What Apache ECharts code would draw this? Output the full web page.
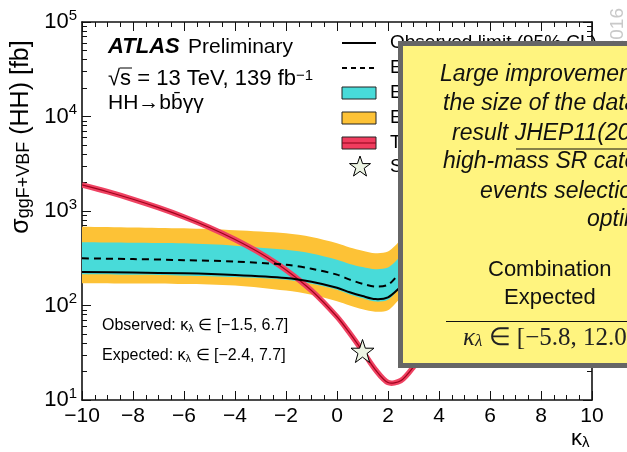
<!DOCTYPE html>
<html>
<head>
<meta charset="utf-8">
<script src="https://cdn.jsdelivr.net/npm/echarts@6/dist/echarts.min.js"></script>
<style>
html, body { margin: 0; padding: 0; background: #fff; }
#chart { width: 627px; height: 452px; }
</style>
</head>
<body>
<div id="chart"></div>
<script>
// kappa_lambda points of the limit curves
const kappa = [-10, -8, -6, -4, -2, -1, 0, 0.5, 1, 1.5, 2, 2.5, 3, 4, 6, 8, 10]
const observed = [226, 223, 219, 210, 195, 178, 154, 138, 126, 117, 122, 158, 210, 250, 270, 285, 300]
const expected = [316, 310, 302, 292, 270, 245, 212, 188, 170, 159, 166, 225, 280, 330, 360, 380, 400]
const exp1sUp = [467, 462, 455, 430, 388, 355, 305, 275, 255, 242, 252, 330, 420, 500, 540, 560, 580]
const exp1sDn = [214, 211, 207, 200, 187, 170, 147, 131, 119, 110, 115, 155, 190, 225, 245, 255, 270]
const exp2sUp = [682, 670, 655, 625, 580, 530, 455, 410, 380, 358, 372, 490, 620, 720, 780, 800, 830]
const exp2sDn = [172, 171, 169, 163, 144, 130, 111, 100, 91, 86, 89, 120, 150, 170, 185, 195, 205]

// theory prediction
const kappaTheory = [-10, -9, -8, -7, -6, -5, -4, -3, -2, -1, 0, 0.5, 1, 1.5, 2, 2.5, 3, 3.5, 4, 5, 6, 7, 8, 9, 10]
const theory = [1890, 1600, 1330, 1085, 865, 670, 500, 357, 238, 144, 76, 51, 33, 21, 15.3, 16, 22.5, 36, 56, 115, 195, 300, 440, 600, 780]

const smPoint = [1, 33]

const legendLabels = ['Observed limit (95% CL)', 'Expected limit (95% CL)', 'Expected limit \u00b11\u03c3',
  'Expected limit \u00b12\u03c3', 'Theory prediction', 'SM prediction']

const FONT = 'Liberation Sans, Arial, sans-serif'
const STAR = 'path://M50,2 L61.5,36 L97,36 L68.5,57 L79,92 L50,71 L21,92 L31.5,57 L3,36 L38.5,36 Z'
const SMOOTH = 0.3

const chart = echarts.init(document.getElementById('chart'))

const tickStyle = {
  axisLine: { show: true, onZero: false, lineStyle: { color: '#111', width: 1.6 } },
  axisTick: { show: true, inside: true, length: 9, lineStyle: { color: '#111', width: 1 } },
  minorTick: { show: true, length: 5, lineStyle: { color: '#111', width: 1 } },
  splitLine: { show: false },
  minorSplitLine: { show: false }
}

// band between two curves, drawn as one polygon (ends doubled so the corners stay sharp)
function bandSeries (upper, lower, color) {
  return {
    type: 'custom', clip: true, silent: true, z: 1,
    data: [[kappa[0], lower[0]]],
    renderItem: (params, api) => {
      const up = kappa.map((k, i) => api.coord([k, upper[i]]))
      const dn = kappa.map((k, i) => api.coord([k, lower[i]])).reverse()
      const pts = [up[0]].concat(up, [up[up.length - 1]], [dn[0]], dn, [dn[dn.length - 1]])
      return { type: 'polygon', shape: { points: pts, smooth: SMOOTH }, style: { fill: color } }
    }
  }
}

function curveSeries (xs, ys, style, z) {
  return {
    type: 'custom', clip: true, silent: true, z,
    data: [[xs[0], ys[0]]],
    renderItem: (params, api) => ({
      type: 'polyline',
      shape: { points: xs.map((k, i) => api.coord([k, ys[i]])), smooth: SMOOTH },
      style: Object.assign({ fill: null, lineJoin: 'round' }, style)
    })
  }
}

function txt (x, y, text, extra) {
  return {
    type: 'text', x, y, z: 20,
    style: Object.assign({ text, fill: '#000', fontSize: 16, fontFamily: FONT, align: 'left', verticalAlign: 'middle' }, extra || {})
  }
}

const subRich = size => ({ fontSize: size, fontFamily: FONT, fill: '#000', verticalAlign: 'bottom' })

const legendX = 342
const legendY = [43, 68, 93, 118, 143, 167]

const graphics = [
  // ATLAS label block
  txt(108, 47, 'ATLAS', { fontSize: 22, fontWeight: 'bold', fontStyle: 'italic' }),
  txt(188, 47, 'Preliminary', { fontSize: 21 }),
  txt(108, 79, '\u221as = 13 TeV, 139 fb{sup|\u22121}', {
    fontSize: 22, rich: { sup: { fontSize: 15, fontFamily: FONT, fill: '#000', verticalAlign: 'top' } }
  }),
  { type: 'line', z: 20, shape: { x1: 120, y1: 68, x2: 132, y2: 68 }, style: { stroke: '#000', lineWidth: 1 } },
  txt(108, 103, 'HH\u2192bb\u0304\u03b3\u03b3', { fontSize: 21 }),
  // intervals
  txt(102, 326, 'Observed: \u03ba{sub|\u03bb} \u2208 [\u22121.5, 6.7]', { fontSize: 16, rich: { sub: subRich(11) } }),
  txt(102, 356, 'Expected: \u03ba{sub|\u03bb} \u2208 [\u22122.4, 7.7]', { fontSize: 16, rich: { sub: subRich(11) } }),
  // axis titles
  Object.assign(txt(21, 137, '\u03c3{sub|ggF+VBF} (HH) [fb]', {
    fontSize: 25, align: 'center', rich: { sub: subRich(18) }
  }), { rotation: Math.PI / 2 }),
  txt(571, 439, '\u03ba{sub|\u03bb}', { fontSize: 22, rich: { sub: subRich(15) } }),
  // watermark on the right
  Object.assign(txt(618, 8, '2016', { fontSize: 19, fill: '#c9c9c9', align: 'right' }), { rotation: Math.PI / 2, z: 5 }),
  // legend
  { type: 'line', z: 20, shape: { x1: legendX, y1: legendY[0], x2: legendX + 34, y2: legendY[0] }, style: { stroke: '#000', lineWidth: 2 } },
  { type: 'line', z: 20, shape: { x1: legendX, y1: legendY[1], x2: legendX + 34, y2: legendY[1] }, style: { stroke: '#000', lineWidth: 2, lineDash: [5, 4] } },
  { type: 'rect', z: 20, shape: { x: legendX, y: legendY[2] - 6, width: 34, height: 12 }, style: { fill: '#48dbd9', stroke: '#222', lineWidth: 1 } },
  { type: 'rect', z: 20, shape: { x: legendX, y: legendY[3] - 6, width: 34, height: 12 }, style: { fill: '#fdc236', stroke: '#222', lineWidth: 1 } },
  { type: 'rect', z: 20, shape: { x: legendX, y: legendY[4] - 6, width: 34, height: 12 }, style: { fill: '#f03c5e', stroke: '#222', lineWidth: 1 } },
  { type: 'line', z: 20, shape: { x1: legendX, y1: legendY[4], x2: legendX + 34, y2: legendY[4] }, style: { stroke: '#8a0018', lineWidth: 1.2 } },
  { type: 'polygon', z: 20, shape: { points: [[360, 156], [362.6, 163.6], [370.5, 163.6], [364.2, 168.3], [366.5, 176], [360, 171.3], [353.5, 176], [355.8, 168.3], [349.5, 163.6], [357.4, 163.6]] },
    style: { fill: '#edf5e4', stroke: '#000', lineWidth: 1 } }
].concat(legendLabels.map((t, i) => txt(390, legendY[i], t, { fontSize: 19 })))

// overlay box
const boxFont = { fontSize: 23, fontStyle: 'italic', fill: '#111' }
const mathFont = 'Liberation Serif, serif'
graphics.push(
  { type: 'rect', z: 100, shape: { x: 400.5, y: 43.5, width: 260, height: 322 }, style: { fill: '#fff47f', stroke: '#666', lineWidth: 5 } },
  Object.assign(txt(440, 75, 'Large improvement (not only', boxFont), { z: 101 }),
  Object.assign(txt(443, 104, 'the size of the dataset) wrt', boxFont), { z: 101 }),
  Object.assign(txt(452, 134, 'result JHEP11(2018)040: new', boxFont), { z: 101 }),
  { type: 'line', z: 101, shape: { x1: 516, y1: 149, x2: 640, y2: 149 }, style: { stroke: '#111', lineWidth: 1 } },
  Object.assign(txt(443, 162, 'high-mass SR categories,', boxFont), { z: 101 }),
  Object.assign(txt(480, 192, 'events selection and', boxFont), { z: 101 }),
  Object.assign(txt(587, 220, 'optimization', boxFont), { z: 101 }),
  Object.assign(txt(488, 270, 'Combination', { fontSize: 22, fill: '#111' }), { z: 101 }),
  Object.assign(txt(504, 298, 'Expected', { fontSize: 22, fill: '#111' }), { z: 101 }),
  { type: 'line', z: 101, shape: { x1: 446, y1: 321.5, x2: 640, y2: 321.5 }, style: { stroke: '#111', lineWidth: 1 } },
  Object.assign(txt(463, 338, '{k|\u03ba}{sub|\u03bb} \u2208 [\u22125.8, 12.0]', {
    fontSize: 25, fontFamily: mathFont, fill: '#222',
    rich: {
      k: { fontSize: 25, fontStyle: 'italic', fontFamily: mathFont, fill: '#222' },
      sub: { fontSize: 17, fontStyle: 'italic', fontFamily: mathFont, fill: '#222', verticalAlign: 'bottom' }
    }
  }), { z: 101 })
)

const xAxisBase = {
  type: 'value', min: -10, max: 10, interval: 2
}
const yAxisBase = {
  type: 'log', logBase: 10, min: 10, max: 100000
}

const option = {
  animation: false,
  backgroundColor: '#fff',
  grid: { left: 82, right: 35, top: 22, bottom: 52 },
  xAxis: [
    Object.assign({}, xAxisBase, tickStyle, {
      axisLabel: {
        color: '#000', fontSize: 21, fontFamily: FONT, margin: 6,
        formatter: v => (v < 0 ? '\u2212' + (-v) : String(v))
      },
      minorTick: Object.assign({ splitNumber: 4 }, tickStyle.minorTick)
    }),
    Object.assign({}, xAxisBase, tickStyle, {
      position: 'top', axisLabel: { show: false },
      minorTick: Object.assign({ splitNumber: 4 }, tickStyle.minorTick)
    })
  ],
  yAxis: [
    Object.assign({}, yAxisBase, tickStyle, {
      axisLabel: {
        margin: 5,
        formatter: v => '{b|10}{sup|' + Math.round(Math.log10(v)) + '}',
        rich: {
          b: { color: '#000', fontSize: 22, fontFamily: FONT, lineHeight: 28 },
          sup: { color: '#000', fontSize: 15, fontFamily: FONT, verticalAlign: 'top' }
        }
      },
      minorTick: Object.assign({ splitNumber: 9 }, tickStyle.minorTick)
    }),
    Object.assign({}, yAxisBase, tickStyle, {
      position: 'right', axisLabel: { show: false },
      minorTick: Object.assign({ splitNumber: 9 }, tickStyle.minorTick)
    })
  ],
  series: [
    bandSeries(exp2sUp, exp2sDn, '#fdc236'),
    bandSeries(exp1sUp, exp1sDn, '#48dbd9'),
    curveSeries(kappaTheory, theory, { stroke: '#ef4262', lineWidth: 5.5 }, 2),
    curveSeries(kappaTheory, theory, { stroke: '#a0001c', lineWidth: 1.2 }, 2),
    curveSeries(kappa, expected, { stroke: '#000', lineWidth: 2, lineDash: [7, 5] }, 3),
    curveSeries(kappa, observed, { stroke: '#000', lineWidth: 2 }, 3),
    {
      type: 'scatter', data: [smPoint], symbol: STAR, symbolSize: 23,
      itemStyle: { color: '#edf5e4', borderColor: '#000', borderWidth: 1, opacity: 1 }, silent: true, z: 4
    }
  ],
  graphic: { elements: graphics }
}

chart.setOption(option)
</script>
</body>
</html>
